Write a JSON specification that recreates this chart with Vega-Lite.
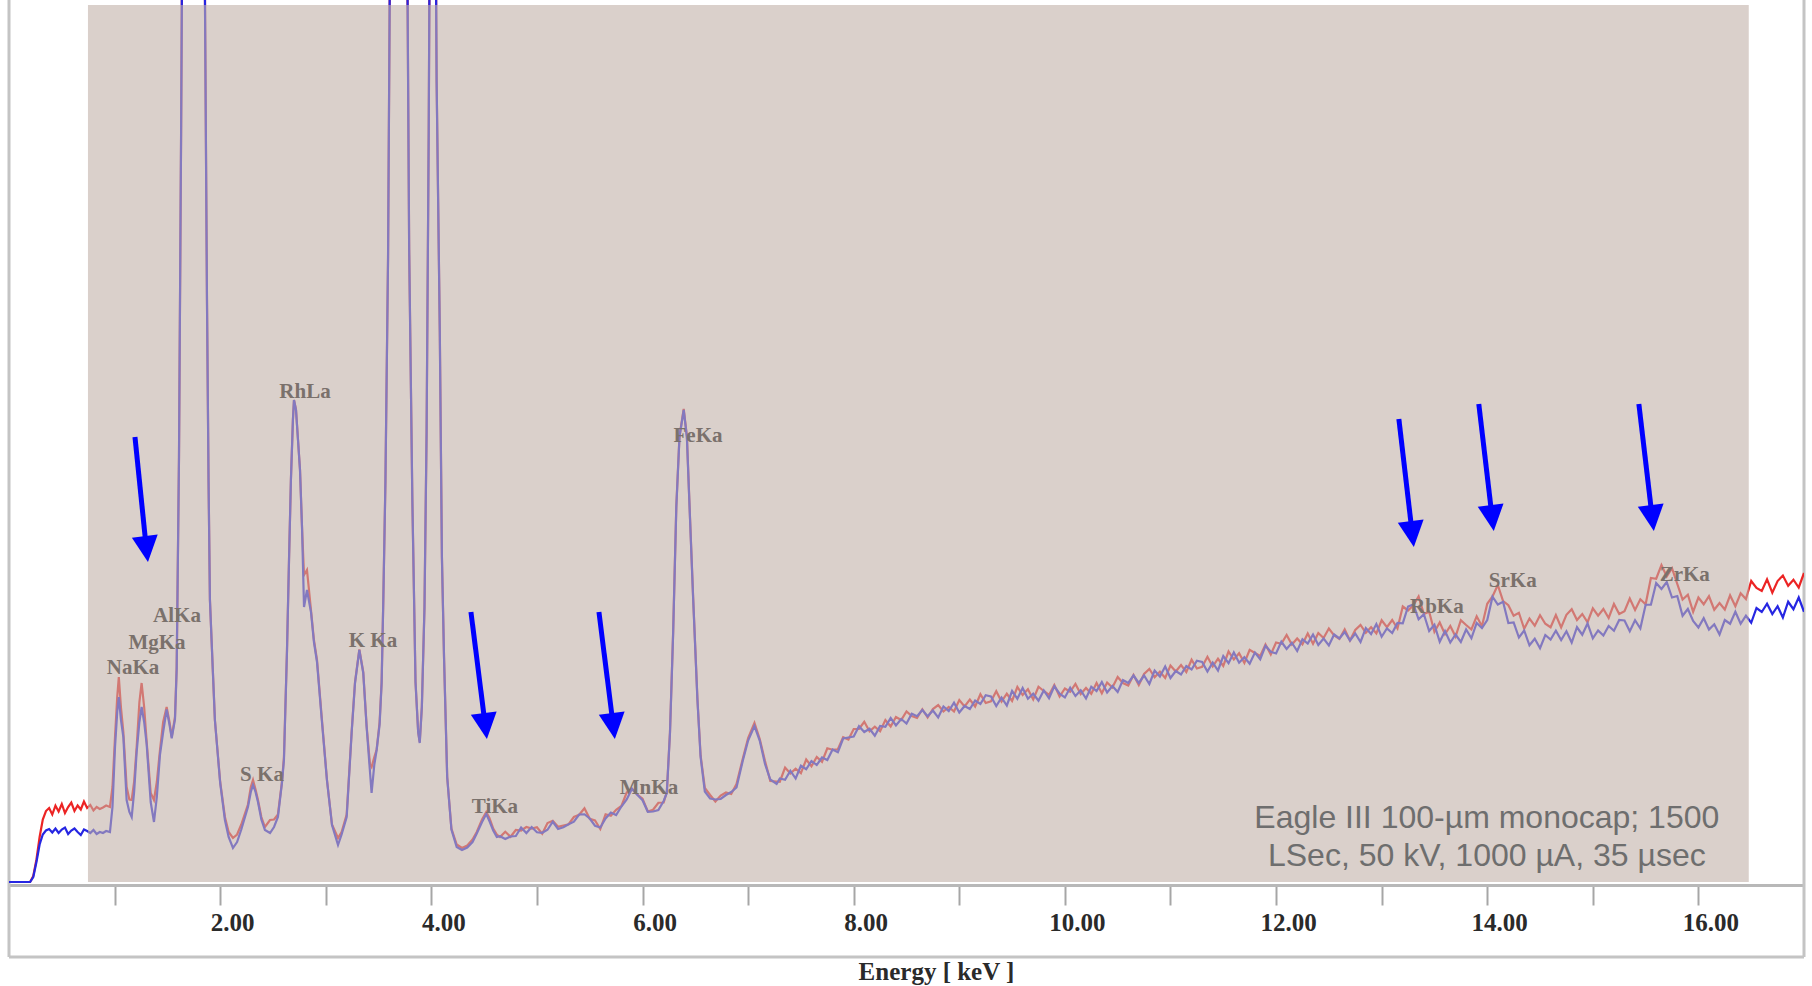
{
  "$schema": "https://vega.github.io/schema/vega-lite/v6.json",
  "width": 1795,
  "height": 957,
  "autosize": {"type": "none"},
  "padding": {"left": 9, "top": 0, "right": 8, "bottom": 29},
  "background": "white",
  "config": {"view": {"stroke": null}},
  "datasets": {
    "spectrum": [
      {"e":0,"r":0,"b":0},{"e":0.1,"r":0,"b":0},{"e":0.2,"r":0,"b":0},{"e":0.23,"r":24,"b":20},{"e":0.26,"r":90,"b":80},{"e":0.29,"r":180,"b":150},{"e":0.32,"r":250,"b":190},{"e":0.35,"r":284,"b":206},
      {"e":0.38,"r":296,"b":212},{"e":0.41,"r":270,"b":198},{"e":0.44,"r":305,"b":214},{"e":0.47,"r":282,"b":196},{"e":0.5,"r":312,"b":210},{"e":0.53,"r":276,"b":218},{"e":0.56,"r":300,"b":192},{"e":0.59,"r":318,"b":206},{"e":0.62,"r":284,"b":214},{"e":0.65,"r":306,"b":200},{"e":0.68,"r":290,"b":188},{"e":0.71,"r":322,"b":210},{"e":0.74,"r":296,"b":204},{"e":0.77,"r":308,"b":196},{"e":0.8,"r":286,"b":208},{"e":0.83,"r":300,"b":192},{"e":0.86,"r":292,"b":200},{"e":0.89,"r":298,"b":196},{"e":0.92,"r":306,"b":204},{"e":0.956,"r":300,"b":200},
      {"e":0.98,"r":380,"b":300},{"e":1.004,"r":580,"b":540},{"e":1.025,"r":740,"b":680},{"e":1.04,"r":820,"b":740},{"e":1.06,"r":700,"b":650},{"e":1.083,"r":600,"b":580},{"e":1.114,"r":380,"b":328},{"e":1.14,"r":330,"b":280},{"e":1.162,"r":328,"b":260},{"e":1.185,"r":400,"b":360},{"e":1.209,"r":540,"b":520},{"e":1.235,"r":720,"b":640},{"e":1.256,"r":796,"b":700},{"e":1.28,"r":700,"b":640},{"e":1.304,"r":560,"b":550},{"e":1.342,"r":356,"b":320},{"e":1.373,"r":328,"b":240},{"e":1.4,"r":400,"b":340},{"e":1.43,"r":528,"b":510},{"e":1.46,"r":640,"b":600},{"e":1.493,"r":700,"b":690},{"e":1.52,"r":640,"b":630},{"e":1.541,"r":580,"b":575},{"e":1.572,"r":660,"b":650},{"e":1.588,"r":860,"b":850},
      {"e":1.61,"r":1700,"b":1700},{"e":1.63,"r":3000,"b":3000},{"e":1.65,"r":4500,"b":4500},{"e":1.74,"r":14000,"b":14000},{"e":1.84,"r":4500,"b":4500},{"e":1.856,"r":3528,"b":3528},{"e":1.875,"r":2328,"b":2328},{"e":1.89,"r":1600,"b":1600},{"e":1.903,"r":1128,"b":1128},{"e":1.93,"r":850,"b":850},{"e":1.95,"r":648,"b":648},{"e":1.98,"r":500,"b":496},{"e":2.0,"r":400,"b":396},{"e":2.045,"r":260,"b":248},{"e":2.08,"r":200,"b":180},{"e":2.121,"r":176,"b":136},{"e":2.16,"r":190,"b":160},{"e":2.2,"r":230,"b":210},
      {"e":2.263,"r":310,"b":300},{"e":2.29,"r":380,"b":360},{"e":2.311,"r":408,"b":388},{"e":2.335,"r":370,"b":360},{"e":2.358,"r":328,"b":320},{"e":2.39,"r":260,"b":250},{"e":2.424,"r":220,"b":208},{"e":2.472,"r":248,"b":196},{"e":2.51,"r":250,"b":220},{"e":2.547,"r":270,"b":260},{"e":2.585,"r":400,"b":396},{"e":2.604,"r":500,"b":488},{"e":2.633,"r":930,"b":928},{"e":2.652,"r":1290,"b":1288},{"e":2.67,"r":1610,"b":1608},{"e":2.689,"r":1850,"b":1848},{"e":2.699,"r":1928,"b":1928},{"e":2.718,"r":1890,"b":1888},{"e":2.737,"r":1770,"b":1768},{"e":2.756,"r":1650,"b":1648},{"e":2.775,"r":1420,"b":1420},{"e":2.794,"r":1228,"b":1100},{"e":2.822,"r":1248,"b":1168},{"e":2.86,"r":1088,"b":1080},{"e":2.888,"r":968,"b":960},{"e":2.917,"r":888,"b":880},{"e":2.964,"r":648,"b":640},{"e":3.011,"r":410,"b":408},{"e":3.059,"r":230,"b":228},{"e":3.116,"r":176,"b":148},{"e":3.15,"r":200,"b":190},
      {"e":3.198,"r":270,"b":260},{"e":3.245,"r":600,"b":596},{"e":3.277,"r":800,"b":796},{"e":3.318,"r":930,"b":928},{"e":3.355,"r":840,"b":836},{"e":3.387,"r":624,"b":620},{"e":3.419,"r":470,"b":440},{"e":3.434,"r":460,"b":356},{"e":3.46,"r":500,"b":470},{"e":3.482,"r":530,"b":528},{"e":3.51,"r":640,"b":630},{"e":3.529,"r":800,"b":796},{"e":3.545,"r":1128,"b":1128},{"e":3.565,"r":1600,"b":1600},{"e":3.59,"r":2500,"b":2500},{"e":3.62,"r":4500,"b":4500},{"e":3.69,"r":9000,"b":9000},{"e":3.76,"r":4500,"b":4500},{"e":3.79,"r":2528,"b":2528},{"e":3.82,"r":1528,"b":1528},{"e":3.85,"r":800,"b":800},{"e":3.875,"r":600,"b":600},{"e":3.89,"r":560,"b":556},{"e":3.91,"r":700,"b":700},{"e":3.935,"r":1100,"b":1100},{"e":3.955,"r":1800,"b":1800},{"e":3.975,"r":3000,"b":3000},{"e":4.01,"r":6000,"b":6000},{"e":4.05,"r":3200,"b":3200},{"e":4.08,"r":2200,"b":2200},{"e":4.1,"r":1300,"b":1300},{"e":4.12,"r":900,"b":900},{"e":4.15,"r":420,"b":420},{"e":4.19,"r":214,"b":210},
      {"e":4.24,"r":150,"b":140},{"e":4.29,"r":136,"b":128},{"e":4.34,"r":146,"b":138},{"e":4.39,"r":170,"b":160},{"e":4.43,"r":200,"b":194},{"e":4.48,"r":250,"b":240},{"e":4.52,"r":280,"b":272},{"e":4.55,"r":256,"b":244},{"e":4.586,"r":214,"b":206},{"e":4.62,"r":190,"b":180},
      {"e":4.65,"r":180,"b":183},{"e":4.7,"r":201,"b":172},{"e":4.75,"r":181,"b":182},{"e":4.8,"r":208,"b":184},{"e":4.85,"r":206,"b":218},{"e":4.9,"r":220,"b":196},{"e":4.95,"r":214,"b":220},{"e":5.0,"r":219,"b":199},{"e":5.05,"r":193,"b":197},{"e":5.1,"r":236,"b":209},{"e":5.15,"r":245,"b":241},{"e":5.2,"r":221,"b":212},{"e":5.25,"r":226,"b":219},{"e":5.3,"r":231,"b":231},{"e":5.35,"r":260,"b":241},{"e":5.4,"r":269,"b":270},{"e":5.45,"r":295,"b":271},{"e":5.5,"r":253,"b":254},{"e":5.55,"r":246,"b":225},{"e":5.6,"r":212,"b":218},{"e":5.65,"r":271,"b":254},{"e":5.7,"r":265,"b":278},{"e":5.75,"r":289,"b":268},{"e":5.8,"r":304,"b":302},{"e":5.85,"r":358,"b":330},{"e":5.9,"r":372,"b":373},{"e":5.95,"r":350,"b":349},{"e":6.0,"r":333,"b":327},{"e":6.05,"r":282,"b":281},{"e":6.1,"r":289,"b":282},{"e":6.15,"r":317,"b":288},{"e":6.2,"r":318,"b":324},
      {"e":6.23,"r":360,"b":356},{"e":6.26,"r":600,"b":596},{"e":6.29,"r":1000,"b":996},{"e":6.32,"r":1504,"b":1500},{"e":6.35,"r":1784,"b":1780},{"e":6.39,"r":1892,"b":1888},{"e":6.42,"r":1784,"b":1780},{"e":6.45,"r":1454,"b":1450},{"e":6.48,"r":1132,"b":1128},{"e":6.52,"r":732,"b":728},{"e":6.55,"r":506,"b":500},{"e":6.59,"r":376,"b":362},{"e":6.64,"r":348,"b":334},{"e":6.69,"r":322,"b":330},{"e":6.74,"r":346,"b":332},{"e":6.79,"r":358,"b":348},{"e":6.84,"r":352,"b":360},{"e":6.89,"r":392,"b":378},{"e":6.95,"r":494,"b":486},{"e":7.0,"r":576,"b":566},{"e":7.06,"r":636,"b":624},{"e":7.11,"r":572,"b":566},{"e":7.16,"r":484,"b":472},{"e":7.21,"r":404,"b":410},{"e":7.27,"r":402,"b":392},
      {"e":7.3,"r":401,"b":414},{"e":7.35,"r":458,"b":409},{"e":7.4,"r":434,"b":445},{"e":7.45,"r":453,"b":414},{"e":7.5,"r":435,"b":465},{"e":7.55,"r":490,"b":451},{"e":7.6,"r":463,"b":484},{"e":7.65,"r":500,"b":468},{"e":7.7,"r":481,"b":498},{"e":7.75,"r":535,"b":488},{"e":7.8,"r":529,"b":530},{"e":7.85,"r":531,"b":519},{"e":7.9,"r":579,"b":574},{"e":7.95,"r":570,"b":578},{"e":8.0,"r":612,"b":582},{"e":8.05,"r":612,"b":623},{"e":8.1,"r":641,"b":600},{"e":8.15,"r":603,"b":613},{"e":8.2,"r":621,"b":585},{"e":8.25,"r":603,"b":624},{"e":8.3,"r":648,"b":621},{"e":8.35,"r":622,"b":656},{"e":8.4,"r":660,"b":626},{"e":8.45,"r":648,"b":652},{"e":8.5,"r":682,"b":634},{"e":8.55,"r":664,"b":673},{"e":8.6,"r":656,"b":663},{"e":8.65,"r":691,"b":688},{"e":8.7,"r":658,"b":663},{"e":8.75,"r":692,"b":686},{"e":8.8,"r":708,"b":658},{"e":8.85,"r":682,"b":702},{"e":8.9,"r":700,"b":684},{"e":8.95,"r":682,"b":717},
      {"e":9.0,"r":728,"b":678},{"e":9.05,"r":702,"b":704},{"e":9.1,"r":730,"b":692},{"e":9.15,"r":702,"b":726},{"e":9.2,"r":751,"b":712},{"e":9.25,"r":716,"b":747},{"e":9.3,"r":723,"b":742},{"e":9.35,"r":763,"b":704},{"e":9.4,"r":722,"b":738},{"e":9.45,"r":753,"b":706},{"e":9.5,"r":724,"b":764},{"e":9.55,"r":780,"b":733},{"e":9.6,"r":748,"b":776},{"e":9.65,"r":771,"b":733},{"e":9.7,"r":730,"b":753},{"e":9.75,"r":781,"b":725},{"e":9.8,"r":764,"b":766},{"e":9.85,"r":748,"b":735},{"e":9.9,"r":788,"b":783},{"e":9.95,"r":742,"b":753},{"e":10.0,"r":774,"b":738},{"e":10.05,"r":761,"b":777},{"e":10.1,"r":792,"b":744},{"e":10.15,"r":752,"b":767},{"e":10.2,"r":776,"b":734},{"e":10.25,"r":753,"b":781},{"e":10.3,"r":796,"b":764},{"e":10.35,"r":755,"b":800},{"e":10.4,"r":798,"b":758},{"e":10.45,"r":778,"b":784},{"e":10.5,"r":820,"b":760},{"e":10.55,"r":796,"b":808},{"e":10.6,"r":786,"b":796},{"e":10.65,"r":828,"b":826},{"e":10.7,"r":788,"b":796},{"e":10.75,"r":832,"b":826},{"e":10.8,"r":852,"b":792},{"e":10.85,"r":819,"b":846},{"e":10.9,"r":841,"b":822},{"e":10.95,"r":816,"b":862},
      {"e":11.0,"r":866,"b":816},{"e":11.05,"r":842,"b":844},{"e":11.1,"r":868,"b":830},{"e":11.15,"r":840,"b":864},{"e":11.2,"r":889,"b":850},{"e":11.25,"r":854,"b":885},{"e":11.3,"r":861,"b":880},{"e":11.35,"r":901,"b":842},{"e":11.4,"r":862,"b":878},{"e":11.45,"r":893,"b":846},{"e":11.5,"r":864,"b":904},{"e":11.55,"r":922,"b":875},{"e":11.6,"r":890,"b":918},{"e":11.65,"r":915,"b":877},{"e":11.7,"r":876,"b":899},{"e":11.75,"r":929,"b":873},{"e":11.8,"r":916,"b":918},{"e":11.85,"r":904,"b":891},{"e":11.9,"r":950,"b":945},{"e":11.95,"r":910,"b":921},
      {"e":12.0,"r":958,"b":914},{"e":12.05,"r":953,"b":961},{"e":12.1,"r":988,"b":932},{"e":12.15,"r":950,"b":957},{"e":12.2,"r":974,"b":924},{"e":12.25,"r":951,"b":971},{"e":12.3,"r":994,"b":954},{"e":12.35,"r":953,"b":990},{"e":12.4,"r":996,"b":948},{"e":12.45,"r":976,"b":974},{"e":12.5,"r":1014,"b":946},{"e":12.55,"r":986,"b":990},{"e":12.6,"r":972,"b":974},{"e":12.65,"r":1010,"b":1000},{"e":12.7,"r":966,"b":966},{"e":12.75,"r":1008,"b":994},{"e":12.8,"r":1028,"b":960},{"e":12.85,"r":997,"b":1016},{"e":12.9,"r":1019,"b":992},{"e":12.95,"r":994,"b":1032},
      {"e":13.0,"r":1047,"b":981},{"e":13.05,"r":1019,"b":1014},{"e":13.1,"r":1048,"b":996},{"e":13.15,"r":1014,"b":1036},{"e":13.2,"r":1102,"b":1035},{"e":13.25,"r":1086,"b":1102},{"e":13.3,"r":1107,"b":1110},{"e":13.35,"r":1142,"b":1051},{"e":13.4,"r":1072,"b":1071},{"e":13.45,"r":1081,"b":1004},{"e":13.5,"r":1001,"b":1029},{"e":13.55,"r":1038,"b":961},{"e":13.6,"r":991,"b":1004},{"e":13.65,"r":1024,"b":958},{"e":13.7,"r":982,"b":990},{"e":13.75,"r":1047,"b":960},{"e":13.8,"r":1028,"b":1010},{"e":13.85,"r":1010,"b":975},{"e":13.9,"r":1063,"b":1036},{"e":13.95,"r":1023,"b":1016},
      {"e":14.0,"r":1113,"b":1048},{"e":14.05,"r":1142,"b":1141},{"e":14.1,"r":1188,"b":1110},{"e":14.15,"r":1124,"b":1121},{"e":14.2,"r":1107,"b":1036},{"e":14.25,"r":1065,"b":1038},{"e":14.3,"r":1077,"b":978},{"e":14.35,"r":1013,"b":1006},{"e":14.4,"r":1054,"b":947},{"e":14.45,"r":1025,"b":973},{"e":14.5,"r":1067,"b":935},{"e":14.55,"r":1033,"b":988},{"e":14.6,"r":1019,"b":970},{"e":14.65,"r":1068,"b":1005},{"e":14.7,"r":1018,"b":968},{"e":14.75,"r":1069,"b":1003},{"e":14.8,"r":1091,"b":958},{"e":14.85,"r":1048,"b":1019},{"e":14.9,"r":1072,"b":989},{"e":14.95,"r":1039,"b":1034},
      {"e":15.0,"r":1095,"b":975},{"e":15.05,"r":1065,"b":1006},{"e":15.1,"r":1092,"b":986},{"e":15.15,"r":1056,"b":1024},{"e":15.2,"r":1112,"b":1005},{"e":15.25,"r":1072,"b":1048},{"e":15.3,"r":1083,"b":1046},{"e":15.35,"r":1134,"b":1003},{"e":15.4,"r":1088,"b":1047},{"e":15.45,"r":1131,"b":1014},{"e":15.5,"r":1111,"b":1109},{"e":15.55,"r":1216,"b":1109},{"e":15.6,"r":1213,"b":1196},{"e":15.65,"r":1268,"b":1172},{"e":15.7,"r":1222,"b":1200},{"e":15.75,"r":1255,"b":1138},{"e":15.8,"r":1192,"b":1144},{"e":15.85,"r":1130,"b":1065},{"e":15.9,"r":1149,"b":1092},{"e":15.95,"r":1081,"b":1044},
      {"e":16.0,"r":1138,"b":1018},{"e":16.05,"r":1111,"b":1055},{"e":16.1,"r":1143,"b":1010},{"e":16.15,"r":1089,"b":1031},{"e":16.2,"r":1116,"b":990},{"e":16.25,"r":1090,"b":1048},{"e":16.3,"r":1147,"b":1033},{"e":16.35,"r":1103,"b":1081},{"e":16.4,"r":1155,"b":1033},{"e":16.45,"r":1132,"b":1065},{"e":16.5,"r":1204,"b":1037},{"e":16.55,"r":1176,"b":1096},{"e":16.6,"r":1164,"b":1080},{"e":16.65,"r":1211,"b":1113},{"e":16.7,"r":1157,"b":1072},{"e":16.75,"r":1204,"b":1103},{"e":16.8,"r":1226,"b":1058},{"e":16.85,"r":1185,"b":1121},{"e":16.9,"r":1209,"b":1091},{"e":16.95,"r":1178,"b":1138},{"e":17.0,"r":1236,"b":1081}
    ],
    "overlay": [{"e":0.748,"e2":16.477,"c":0,"c2":3508}],
    "frameV": [{"e":0,"c":-300,"c2":3528},{"e":17,"c":-300,"c2":3528}],
    "frameH": [{"e":0,"e2":17,"c":-300}],
    "peaks": [
      {"e":1.174,"c":856,"t":"NaKa"},{"e":1.402,"c":956,"t":"MgKa"},{"e":1.591,"c":1064,"t":"AlKa"},{"e":2.396,"c":428,"t":"S Ka"},{"e":2.803,"c":1960,"t":"RhLa"},{"e":3.447,"c":964,"t":"K Ka"},{"e":4.602,"c":300,"t":"TiKa"},{"e":6.061,"c":376,"t":"MnKa"},{"e":6.525,"c":1784,"t":"FeKa"},{"e":13.523,"c":1100,"t":"RbKa"},{"e":14.242,"c":1204,"t":"SrKa"},{"e":15.871,"c":1228,"t":"ZrKa"}
    ],
    "shafts": [
      {"e":1.193,"c":1780,"e2":1.301,"c2":1332},{"e":4.375,"c":1080,"e2":4.511,"c2":624},{"e":5.587,"c":1080,"e2":5.723,"c2":624},{"e":13.163,"c":1852,"e2":13.29,"c2":1392},{"e":13.92,"c":1912,"e2":14.047,"c2":1456},{"e":15.436,"c":1912,"e2":15.563,"c2":1456}
    ],
    "heads": [
      {"e":1.301,"c":1332},{"e":4.511,"c":624},{"e":5.723,"c":624},{"e":13.29,"c":1392},{"e":14.047,"c":1456},{"e":15.563,"c":1456}
    ],
    "note": [
      {"e":13.996,"c":256,"t":"Eagle III 100-µm monocap; 1500"},
      {"e":13.996,"c":104,"t":"LSec, 50 kV, 1000 µA, 35 µsec"}
    ]
  },
  "encoding": {
    "x": {
      "field": "e", "type": "quantitative",
      "scale": {"domain": [0, 17], "nice": false, "zero": false},
      "axis": {
        "offset": -72,
        "values": [1,2,3,4,5,6,7,8,9,10,11,12,13,14,15,16],
        "labelExpr": "datum.value % 2 === 0 ? format(datum.value, '.2f') : ''",
        "labelFont": "Liberation Serif", "labelFontSize": 25, "labelFontWeight": "bold", "labelColor": "#2a2a2a",
        "labelOffset": 12, "labelPadding": 5, "labelFlush": false, "labelOverlap": false,
        "tickSize": 20, "tickWidth": 2, "tickColor": "#a6a6a6",
        "domainColor": "#b8b8b8", "domainWidth": 3,
        "grid": false,
        "title": "Energy [ keV ]", "titleFont": "Liberation Serif", "titleFontSize": 25, "titleFontWeight": "bold", "titleColor": "#2a2a2a",
        "titleX": 927, "titleY": 86, "titleBaseline": "middle", "titleAlign": "center"
      }
    },
    "y": {
      "field": "c", "type": "quantitative",
      "scale": {"domain": [-300, 3528], "nice": false, "zero": false},
      "axis": null
    }
  },
  "layer": [
    {
      "data": {"name": "frameV"},
      "mark": {"type": "rule", "color": "#c4c4c4", "strokeWidth": 3},
      "encoding": {"y2": {"field": "c2"}}
    },
    {
      "data": {"name": "frameH"},
      "mark": {"type": "rule", "color": "#c4c4c4", "strokeWidth": 3},
      "encoding": {"x2": {"field": "e2"}}
    },
    {
      "data": {"name": "spectrum"},
      "transform": [{"fold": ["r", "b"], "as": ["series", "c"]}],
      "mark": {"type": "line", "clip": true, "strokeWidth": 2.2},
      "encoding": {
        "color": {"field": "series", "type": "nominal", "scale": {"domain": ["r", "b"], "range": ["#ec2424", "#2626e2"]}, "legend": null}
      }
    },
    {
      "data": {"name": "overlay"},
      "mark": {"type": "rect", "color": "#c1b1a8", "opacity": 0.6},
      "encoding": {"x2": {"field": "e2"}, "y2": {"field": "c2"}}
    },
    {
      "data": {"name": "peaks"},
      "mark": {"type": "text", "font": "Liberation Serif", "fontSize": 21, "fontWeight": "bold", "color": "#7a716c", "align": "center", "baseline": "middle"},
      "encoding": {"text": {"field": "t"}}
    },
    {
      "data": {"name": "shafts"},
      "mark": {"type": "rule", "color": "#0000ff", "strokeWidth": 5},
      "encoding": {"x2": {"field": "e2"}, "y2": {"field": "c2"}}
    },
    {
      "data": {"name": "heads"},
      "mark": {"type": "point", "shape": "M-1,-1L1,-1L0,1Z", "size": 676, "angle": 353, "filled": true, "color": "#0000ff", "opacity": 1, "strokeWidth": 0}
    },
    {
      "data": {"name": "note"},
      "mark": {"type": "text", "font": "Liberation Sans", "fontSize": 32, "color": "#6e6e6e", "align": "center", "baseline": "middle"},
      "encoding": {"text": {"field": "t"}}
    }
  ]
}
